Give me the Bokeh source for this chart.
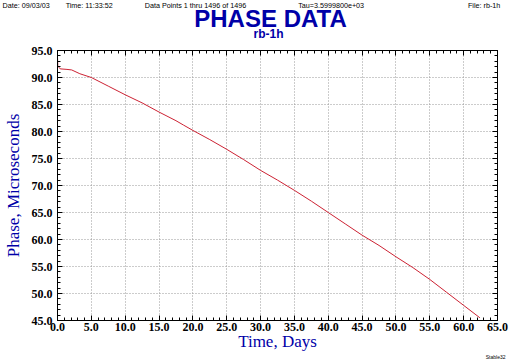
from bokeh.plotting import figure
from bokeh.models import (Range1d, LinearAxis, SingleIntervalTicker, NumeralTickFormatter,
                          CustomJSTickFormatter, Label, ColumnDataSource)
from bokeh.embed import file_html
from bokeh.resources import INLINE

# ---- data ----
days = [0.0, 0.05, 0.2, 0.4, 1.4, 2.1, 3.3, 5.0, 7.5, 10.0, 12.5, 15.0, 17.5, 18.6,
        20.0, 22.5, 25.0, 27.5, 30.0, 32.5, 35.0, 37.5, 40.0, 42.5, 45.0, 47.5,
        50.0, 52.5, 55.0, 57.5, 60.0, 62.4]
phase = [93.7, 92.2, 91.9, 91.6, 91.5, 91.4, 90.7, 90.0, 88.4, 86.8, 85.3, 83.6, 82.0, 81.2,
         80.2, 78.5, 76.7, 74.8, 72.8, 71.0, 69.1, 67.1, 65.0, 62.9, 60.8, 58.9,
         56.8, 54.8, 52.6, 50.2, 47.8, 45.5]
x_start, x_end, x_step = 0.0, 65.0, 5.0
y_start, y_end, y_step = 45.0, 95.0, 5.0

title_text = "PHASE DATA"
subtitle_text = "rb-1h"
header_date = "Date: 09/03/03"
header_time = "Time: 11:33:52"
header_points = "Data Points 1 thru 1496 of 1496"
header_tau = "Tau=3.5999800e+03"
header_file = "File: rb-1h"
footer_text = "Stable32"
x_label = "Time, Days"
y_label = "Phase, Microseconds"

BLUE = "#0000a8"
W, H = 512, 362
NB = "\u00a0"

p = figure(width=W, height=H, output_backend="svg", toolbar_location=None,
           x_range=Range1d(x_start, x_end), y_range=Range1d(y_start, y_end),
           min_border_left=56, min_border_right=15, min_border_top=43, min_border_bottom=42,
           background_fill_color="white", border_fill_color="white")
p.outline_line_color = "black"

src = ColumnDataSource(data=dict(x=days, y=phase))
p.line("x", "y", source=src, line_color="#cc2233", line_width=1)

bottom = p.below[0]
left = p.left[0]
bottom.ticker = SingleIntervalTicker(interval=x_step, num_minor_ticks=5)
left.ticker = SingleIntervalTicker(interval=y_step, num_minor_ticks=5)

top = LinearAxis(ticker=SingleIntervalTicker(interval=x_step, num_minor_ticks=5),
                 formatter=CustomJSTickFormatter(code="return ''"))
right = LinearAxis(ticker=SingleIntervalTicker(interval=y_step, num_minor_ticks=5),
                   formatter=CustomJSTickFormatter(code="return ''"))
p.add_layout(top, "above")
p.add_layout(right, "right")

for ax in [bottom, left, top, right]:
    ax.axis_line_color = "black"
    ax.major_tick_line_color = "black"
    ax.minor_tick_line_color = "black"
    ax.major_tick_in = 5
    ax.major_tick_out = 0
    ax.minor_tick_in = 3
    ax.minor_tick_out = 0

for ax in [top, right]:
    ax.major_label_text_font_size = "0px"
    ax.major_label_standoff = 0
# the header texts share the space above the frame with this (label-less) axis
top.major_label_standoff = -15

for ax in [bottom, left]:
    ax.formatter = NumeralTickFormatter(format="0.0")
    ax.major_label_text_font = "Liberation Serif"
    ax.major_label_text_font_style = "bold"
    ax.major_label_text_font_size = "12px"
    ax.major_label_text_color = "black"
    ax.axis_label_text_font = "Liberation Serif"
    ax.axis_label_text_font_style = "normal"
    ax.axis_label_text_font_size = "17px"
    ax.axis_label_text_color = BLUE

bottom.axis_label = x_label
bottom.major_label_standoff = 2
bottom.axis_label_standoff = -2
left.axis_label = y_label
left.major_label_standoff = 5
left.axis_label_standoff = 6

p.grid.grid_line_color = "#999999"
p.grid.grid_line_dash = "1 2"
p.grid.grid_line_width = 1

def add_text(txt, x, y, size, place, font="Liberation Sans", style="normal", color="black",
             align="left"):
    p.add_layout(Label(x=x, y=y, x_units="canvas", y_units="canvas", text=txt,
                       text_font=font, text_font_size=size, text_font_style=style,
                       text_color=color, text_align=align, text_baseline="alphabetic"),
                 place)

# one header line (non-breaking spaces keep the column gaps)
header_line = (header_date + NB * 8 + header_time + NB * 16 + header_points + NB * 26 +
               header_tau + NB * 52 + header_file)
add_text(header_line, 2, 5, "7.2px", "above")
add_text(title_text, 270, 18, "24px", "above", style="bold", color=BLUE, align="center")
add_text(subtitle_text, 268, 33, "12px", "above", style="bold", color=BLUE, align="center")
add_text(footer_text, 505, 356, "5px", "below", align="right")

open("out.html", "w").write(file_html(p, INLINE))
